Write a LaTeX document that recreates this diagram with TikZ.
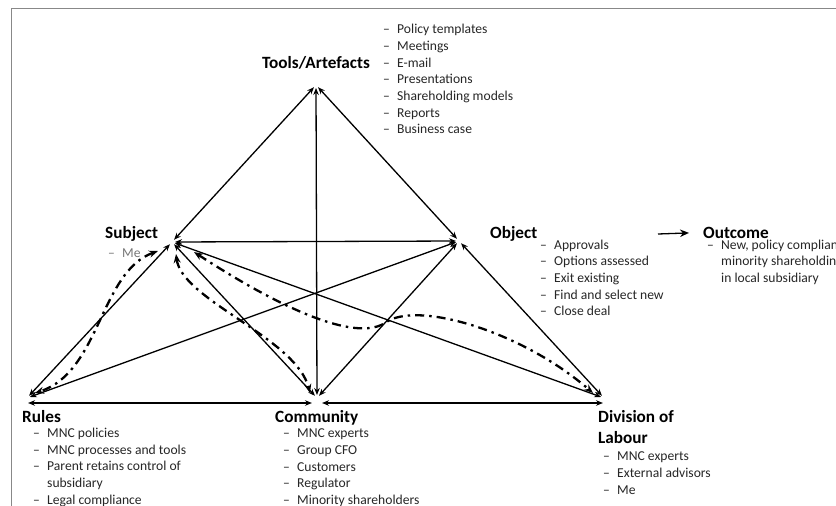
\documentclass[tikz,border=0pt]{standalone}
\usepackage{fontspec}
\setmainfont{Carlito}
\usetikzlibrary{arrows.meta}

\definecolor{framegray}{RGB}{136,136,136}
\definecolor{itemtext}{RGB}{38,38,38}
\definecolor{megray}{RGB}{118,118,118}

% list entry: en dash hanging in a 14pt box
\newcommand{\dashitem}{\strut\makebox[14pt][l]{\textendash}}
\newcommand{\contitem}{\strut\hspace*{14pt}}

\tikzset{
  vtx/.style={coordinate},
  link/.style={line width=1.3pt,
    {Stealth[length=7pt,width=5.5pt]}-{Stealth[length=7pt,width=5.5pt]},
    shorten <=3pt, shorten >=3pt},
  flow/.style={line width=2.3pt, dash pattern=on 9pt off 5pt on 2.5pt off 5pt,
    {Stealth[length=9pt,width=7pt]}-{Stealth[length=9pt,width=7pt]}},
  outarrow/.style={line width=1.3pt, -{Stealth[length=9pt,width=7.5pt]}},
  heading/.style={font=\fontsize{17.2}{20.7}\selectfont\bfseries, inner sep=0pt, anchor=base west},
  items/.style={font=\fontsize{13.6}{16.7}\selectfont, inner sep=0pt, anchor=north west,
    align=left, text=itemtext},
}

\begin{document}
\begin{tikzpicture}[x=1pt,y=-1pt]
\useasboundingbox (0,0) rectangle (836,506);

% frame edges
\draw[framegray, line width=1pt] (11.5,506) -- (11.5,8) -- (836,8);

% corners of the activity system
\coordinate[vtx] (T) at (316,85);
\coordinate[vtx] (S) at (172,242);
\coordinate[vtx] (O) at (459,241);
\coordinate[vtx] (R) at (27,398);
\coordinate[vtx] (C) at (317,398);
\coordinate[vtx] (D) at (604,398);

% headings
\node[heading] (ttools) at (262,68.5) {Tools/Artefacts};
\node[heading] (tsubj) at (105,238) {Subject};
\node[heading] (tobj) at (490,238) {Object};
\node[heading] (tout) at (703,238) {Outcome};
\node[heading] (trules) at (22,422.5) {Rules};
\node[heading] (tcomm) at (275,422.5) {Community};
\node[heading, anchor=north west, align=left] (tdiv) at (598,408) {\strut Division of\\\strut Labour};

% lists
\node[items] (ltools) at (383,21.8) {\dashitem Policy templates\\\dashitem Meetings\\\dashitem E-mail\\\dashitem Presentations\\\dashitem Shareholding models\\\dashitem Reports\\\dashitem Business case};
\node[items, text=megray] (lsubj) at (108,245.5) {\dashitem Me};
\node[items] (lobj) at (540,237.3) {\dashitem Approvals\\\dashitem Options assessed\\\dashitem Exit existing\\\dashitem Find and select new\\\dashitem Close deal};
\node[items] (lout) at (707,237.3) {\dashitem New, policy compliant\\\contitem minority shareholding\\\contitem in local subsidiary};
\node[items] (lrules) at (33,425.5) {\dashitem MNC policies\\\dashitem MNC processes and tools\\\dashitem Parent retains control of\\\contitem subsidiary\\\dashitem Legal compliance};
\node[items] (lcomm) at (283,425.8) {\dashitem MNC experts\\\dashitem Group CFO\\\dashitem Customers\\\dashitem Regulator\\\dashitem Minority shareholders};
\node[items] (ldiv) at (603,448.8) {\dashitem MNC experts\\\dashitem External advisors\\\dashitem Me};

% object leads to outcome
\coordinate (oastart) at (658,234);
\draw[outarrow, shorten >=14pt] (oastart) -- (tout.west);

% solid relations
\draw[link] (S) -- (T);
\draw[link] (T) -- (O);
\draw[link] (T) -- (C);
\draw[link] (S) -- (O);
\draw[link] (S) -- (R);
\draw[link] (S) -- (C);
\draw[link] (S) -- (D);
\draw[link] (R) -- (O);
\draw[link] (C) -- (O);
\draw[link] (O) -- (D);
\draw[link, shorten <=1pt] ([shift={(0,5)}]R) -- ([shift={(-2,5)}]C);
\draw[link, shorten >=1pt] ([shift={(2,5)}]C) -- ([shift={(0,5)}]D);

% dash-dot flows from the subject
\draw[flow] ([shift={(-14,9)}]S) .. controls (100,272) and (100,372) .. ([shift={(8,-5)}]R);
\draw[flow] ([shift={(4,12)}]S) .. controls (182,300) and (296,338) .. ([shift={(-7,-5)}]C);
\draw[flow] ([shift={(22,10)}]S) .. controls (260,295) and (350,345) .. (385,323)
  .. controls (415,300) and (520,330) .. ([shift={(-11,-5)}]D);
\end{tikzpicture}
\end{document}
